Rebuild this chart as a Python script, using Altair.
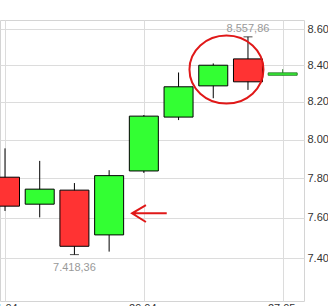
import altair as alt
import pandas as pd

# Weekly candles (index points)
weeks = ["01.04.", "08.04.", "15.04.", "22.04.", "29.04.", "06.05.", "13.05.", "20.05.", "27.05."]
opens = [7805, 7668, 7739, 7515, 7837, 8119, 8287, 8435, 8345]
closes = [7658, 7744, 7459, 7813, 8124, 8282, 8400, 8309, 8358]
highs = [7954, 7889, 7775, 7841, 8130, 8360, 8410, 8557.86, 8378]
lows = [7634, 7602, 7418.36, 7433, 7827, 8103, 8220, 8265, 8345]

y_ticks = [7400, 7600, 7800, 8000, 8200, 8400, 8600]
x_ticks = [1, 5, 9]


def de_num(v):
    s = f"{v:,.2f}"
    return s.replace(",", "X").replace(".", ",").replace("X", ".")


n = len(weeks)
df = pd.DataFrame({
    "i": list(range(1, n + 1)),
    "week": weeks,
    "open": opens,
    "close": closes,
    "high": highs,
    "low": lows,
})
df["up"] = df["close"] >= df["open"]
df["live"] = df["i"] == n

hi_row = df.loc[df["high"].idxmax()]
lo_row = df.loc[df["low"].idxmin()]
hi_df = pd.DataFrame({"i": [hi_row["i"]], "v": [hi_row["high"]], "t": [de_num(hi_row["high"])]})
lo_df = pd.DataFrame({"i": [lo_row["i"]], "v": [lo_row["low"]], "t": [de_num(lo_row["low"])]})

# hand-drawn style markings: ring around the last two full weeks, arrow at week 4
ring_df = pd.DataFrame({"i": [7.38], "v": [8376]})
arrow_df = pd.DataFrame({"i": [5.16], "v": [7622]})

label_map = "{" + ",".join(f"'{k}':'{w}'" for k, w in zip(range(1, n + 1), weeks)) + "}"

x = alt.X(
    "i:Q",
    scale=alt.Scale(domain=[1, 9.47], nice=False, zero=False),
    axis=alt.Axis(
        values=x_ticks, labelExpr=f"{label_map}[datum.value]", grid=True,
        gridColor="#dcdcdc", ticks=False, domain=False, labelPadding=1,
        labelFontSize=11, labelColor="#333", labelFont="Liberation Sans", title=None,
    ),
)
yscale = alt.Scale(type="log", domain=[7196, 8653], nice=False, zero=False)
y_axis = alt.Axis(
    orient="right", values=y_ticks, labelExpr="format(datum.value/1000, '.2f')",
    grid=True, gridColor="#dcdcdc", ticks=False, domain=False, labelPadding=3,
    labelFontSize=11, labelColor="#333", labelFont="Liberation Sans", title=None,
)

base = alt.Chart(df)

wicks = base.mark_rule(strokeWidth=1, clip=True).encode(
    x=x,
    y=alt.Y("low:Q", scale=yscale, axis=y_axis),
    y2="high:Q",
    color=alt.condition("datum.live", alt.value("#2e7d2e"), alt.value("#000000")),
)

bodies = base.mark_bar(size=29, strokeWidth=1, clip=True).encode(
    x="i:Q",
    y=alt.Y("open:Q", scale=yscale),
    y2="close:Q",
    fill=alt.condition("datum.up", alt.value("#33ff33"), alt.value("#ff3333")),
    stroke=alt.condition("datum.live", alt.value("#2e7d2e"), alt.value("#000000")),
)

caps = (
    alt.Chart(pd.concat([hi_df, lo_df]))
    .mark_tick(orient="horizontal", size=9, thickness=1, color="#000")
    .encode(x="i:Q", y=alt.Y("v:Q", scale=yscale))
)

hi_text = alt.Chart(hi_df).mark_text(
    dy=-8, baseline="middle", fontSize=11, color="#999", font="Liberation Sans"
).encode(x="i:Q", y=alt.Y("v:Q", scale=yscale), text="t:N")

lo_text = alt.Chart(lo_df).mark_text(
    dy=13, baseline="middle", fontSize=11, color="#999", font="Liberation Sans"
).encode(x="i:Q", y=alt.Y("v:Q", scale=yscale), text="t:N")

ring = alt.Chart(ring_df).mark_point(
    shape="M -1 0 A 1 0.92 0 1 0 1 0 A 1 0.92 0 1 0 -1 0 Z",
    size=5476, filled=False, stroke="#e01818", strokeWidth=2, opacity=1,
).encode(x="i:Q", y=alt.Y("v:Q", scale=yscale))

arrow = alt.Chart(arrow_df).mark_point(
    shape="M 1 0 L -1 0 M -0.2 -0.47 L -1 0 L -0.2 0.5",
    size=1204, filled=False, stroke="#e01818", strokeWidth=2, opacity=1,
).encode(x="i:Q", y=alt.Y("v:Q", scale=yscale))

chart = (
    alt.layer(wicks, bodies, caps, hi_text, lo_text, ring, arrow)
    .properties(
        width=304, height=281,
        autosize=alt.AutoSizeParams(type="none"),
        padding={"left": 0, "top": 20, "right": 24, "bottom": 5},
        background="white",
    )
    .configure_view(stroke="#d4d4d4")
)

chart.save("out.html", embed_options={"renderer": "svg", "actions": False})
